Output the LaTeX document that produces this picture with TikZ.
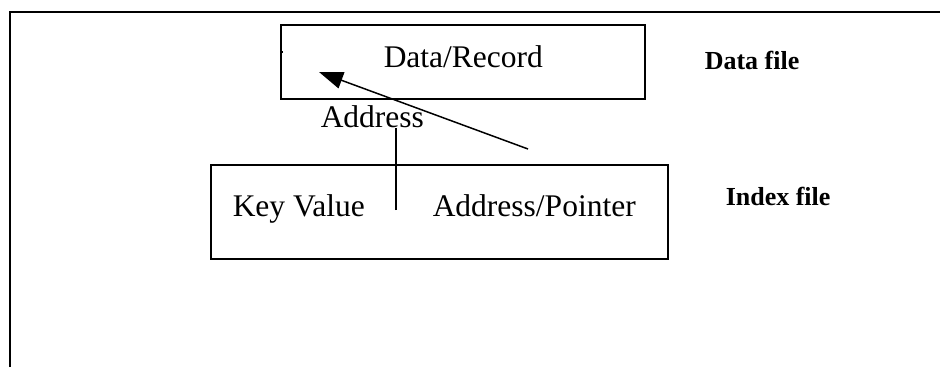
\documentclass[tikz,border=0pt]{standalone}
\usepackage{fontspec}
\setmainfont{Liberation Serif}
\usetikzlibrary{arrows.meta}
\begin{document}
\begin{tikzpicture}[x=1pt,y=-1pt,line width=1.5pt,
  box/.style={draw,line width=1.5pt,inner sep=0pt,anchor=north west},
  lbl/.style={inner sep=0pt,anchor=base west,font=\fontsize{31.5}{36}\selectfont},
  blbl/.style={inner sep=0pt,anchor=base west,font=\fontsize{26}{30}\selectfont\bfseries}]
\useasboundingbox (0,0) rectangle (940,367);
% frame
\coordinate (fbl) at (10,367);
\coordinate (ftl) at (10,12);
\coordinate (ftr) at (940,12);
\draw (fbl) -- (ftl) -- (ftr);
% boxes
\node[box,minimum width=364pt,minimum height=74pt] (data) at (280,24) {};
\node[box,minimum width=457pt,minimum height=94pt] (index) at (210,164) {};
% tick on data box
\coordinate (tick) at (280,52);
\draw (tick) -- ++(3,0);
% texts
\node[lbl] (rec) at (383,67) {Data/Record};
\node[lbl] (addr) at (320,127) {Address};
\node[lbl] (key) at (232,216) {Key Value};
\node[lbl] (ptr) at (432,216) {Address/Pointer};
\node[blbl] (dfile) at (704,69) {Data file};
\node[blbl] (ifile) at (725,205) {Index file};
% connectors
\coordinate (vbot) at (396,210);
\coordinate (vtop) at (396,128);
\draw (vbot) -- (vtop);
\coordinate (atail) at (528,149);
\coordinate (ahead) at (319,72);
\draw[-{Triangle[length=24pt,width=17pt]}] (atail) -- (ahead);
\end{tikzpicture}
\end{document}
